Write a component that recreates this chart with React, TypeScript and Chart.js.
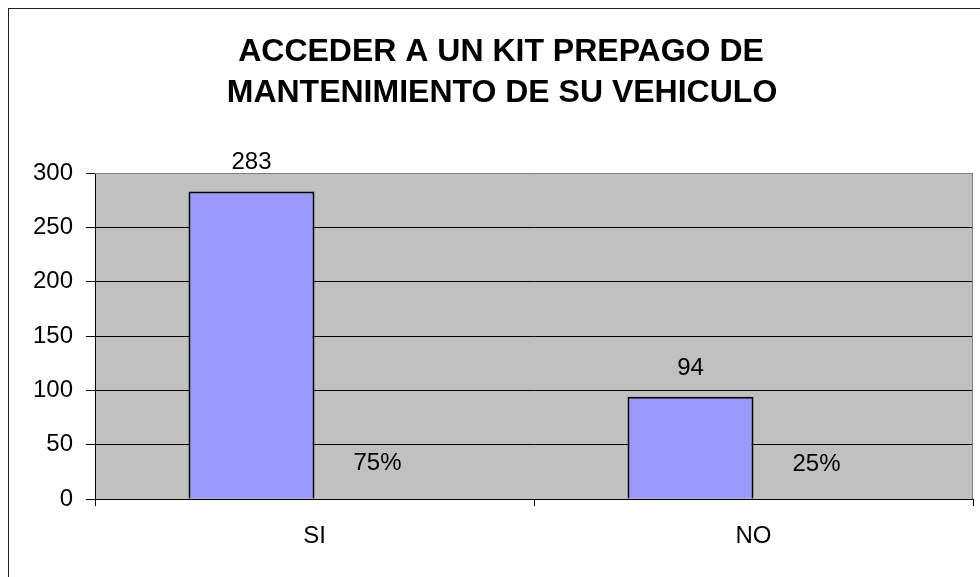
import React, { useEffect, useRef } from "react";
import { Chart, registerables } from "chart.js";

Chart.register(...registerables);

const titleLines = ["ACCEDER A UN KIT PREPAGO DE", "MANTENIMIENTO DE SU VEHICULO"];
const categories = ["SI", "NO"];
const counts = [283, 94];
const shares = [0.75, 0.25];
const yTicks = [0, 50, 100, 150, 200, 250, 300];

const FONT = '"Liberation Sans", Arial, sans-serif';

const decorPlugin = {
  id: "decor",
  beforeDraw(chart: any) {
    const { ctx, chartArea: a } = chart;
    ctx.save();
    ctx.fillStyle = "#ffffff";
    ctx.fillRect(0, 0, chart.width, chart.height);
    ctx.strokeStyle = "#222222";
    ctx.lineWidth = 1;
    ctx.strokeRect(8.5, 8.5, 1100, 1100);
    ctx.fillStyle = "#C0C0C0";
    ctx.fillRect(a.left, a.top, a.right - a.left, a.bottom - a.top);
    ctx.fillStyle = "#000";
    ctx.font = `bold 32px ${FONT}`;
    ctx.textAlign = "center";
    ctx.textBaseline = "alphabetic";
    ctx.fillText(titleLines[0], 501, 61);
    ctx.fillText(titleLines[1], 502, 102);
    ctx.restore();
  },
  beforeDatasetsDraw(chart: any) {
    const { ctx, chartArea: a } = chart;
    ctx.save();
    ctx.strokeStyle = "#808080";
    ctx.lineWidth = 1;
    ctx.beginPath();
    ctx.moveTo(a.left, a.top + 0.5);
    ctx.lineTo(a.right - 0.5, a.top + 0.5);
    ctx.lineTo(a.right - 0.5, a.bottom);
    ctx.stroke();
    ctx.restore();
  },
  afterDatasetsDraw(chart: any) {
    const { ctx } = chart;
    const offsets = [22, 28];
    ctx.save();
    ctx.fillStyle = "#000";
    ctx.font = `24px ${FONT}`;
    ctx.textAlign = "center";
    ctx.textBaseline = "alphabetic";
    chart.data.datasets.forEach((ds: any, di: number) => {
      const meta = chart.getDatasetMeta(di);
      meta.data.forEach((el: any, i: number) => {
        const v = ds.data[i];
        const txt = di === 0 ? String(v) : `${Math.round(v * 100)}%`;
        ctx.fillText(txt, el.x, el.y - offsets[di]);
      });
    });
    ctx.restore();
  },
};

export default function App() {
  const ref = useRef<HTMLCanvasElement>(null);
  useEffect(() => {
    if (!ref.current) return;
    const chart = new Chart(ref.current, {
      type: "bar",
      data: {
        labels: categories,
        datasets: [
          {
            label: "Respuestas",
            data: counts,
            backgroundColor: "#9999FF",
            borderColor: "#000000",
            borderWidth: 2,
            categoryPercentage: 0.574,
            barPercentage: 1,
          },
          {
            label: "Porcentaje",
            data: shares,
            backgroundColor: "rgba(0,0,0,0)",
            borderWidth: 0,
            categoryPercentage: 0.574,
            barPercentage: 1,
          },
        ],
      },
      options: {
        responsive: false,
        animation: false,
        devicePixelRatio: 1,
        layout: { padding: { left: 0, top: 173, right: 7, bottom: 0 } },
        plugins: {
          legend: { display: false },
          title: { display: false },
          tooltip: { enabled: false },
        },
        scales: {
          x: {
            offset: true,
            grid: {
              offset: true,
              drawOnChartArea: false,
              drawTicks: true,
              tickLength: 7,
              color: "#000",
            },
            border: { display: true, color: "#000", width: 1 },
            ticks: {
              color: "#000",
              font: { family: FONT, size: 24 },
              padding: 16,
              maxRotation: 0,
            },
            afterFit(scale: any) {
              scale.height = 78;
            },
          },
          y: {
            min: yTicks[0],
            max: yTicks[yTicks.length - 1],
            afterBuildTicks(scale: any) {
              scale.ticks = yTicks.map((v) => ({ value: v }));
            },
            grid: {
              color: "#000",
              lineWidth: 1,
              drawTicks: true,
              tickLength: 9,
            },
            border: { display: true, color: "#000", width: 1 },
            ticks: {
              color: "#000",
              font: { family: FONT, size: 24 },
              padding: 13,
            },
            afterFit(scale: any) {
              scale.width = 95;
            },
          },
        },
      },
      plugins: [decorPlugin],
    } as any);
    return () => chart.destroy();
  }, []);
  return (
    <div style={{ position: "fixed", left: 0, top: 0, width: 980, height: 577, background: "#fff" }}>
      <canvas ref={ref} width={980} height={577} style={{ display: "block" }} />
    </div>
  );
}
